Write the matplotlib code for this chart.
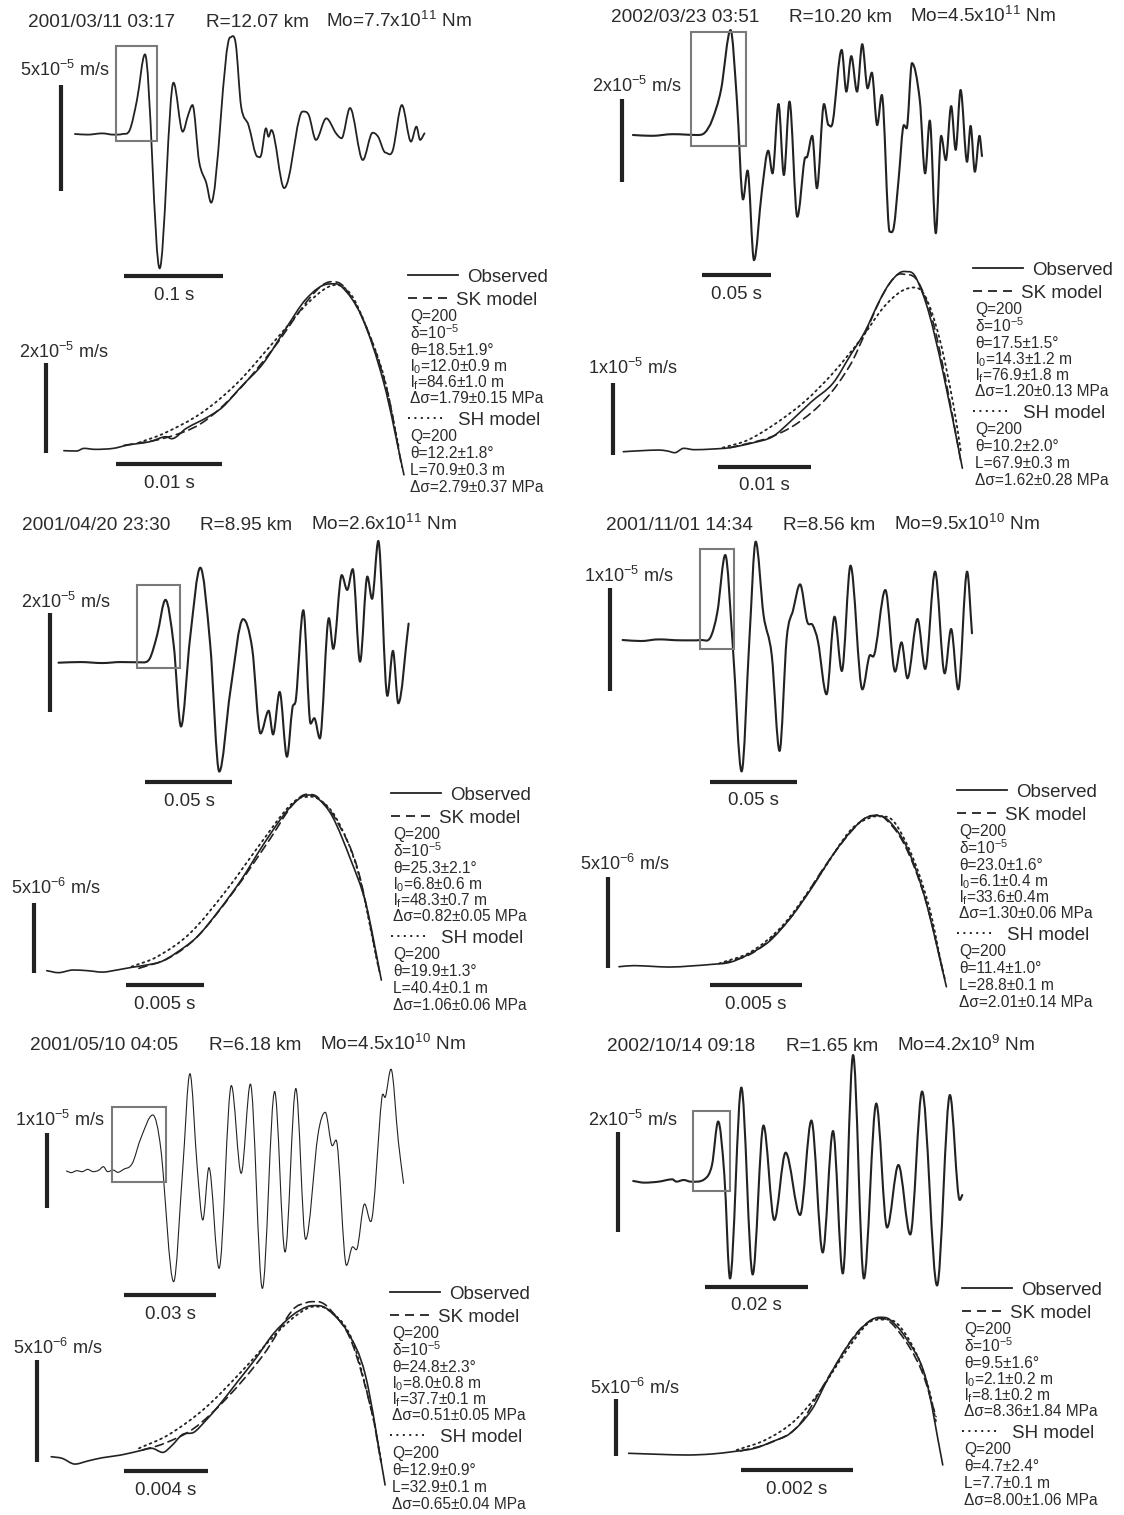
import numpy as np
import matplotlib
matplotlib.use('Agg')
import matplotlib.pyplot as plt
from matplotlib.path import Path
from matplotlib.patches import PathPatch, Rectangle

plt.rcParams['font.family'] = ['Liberation Sans', 'DejaVu Sans']
plt.rcParams['mathtext.fontset'] = 'custom'
plt.rcParams['mathtext.rm'] = 'Liberation Sans'
plt.rcParams['mathtext.it'] = 'Liberation Sans'
plt.rcParams['mathtext.bf'] = 'Liberation Sans:bold'
plt.rcParams['mathtext.default'] = 'regular'

W, H = 1124, 1515
INK = '#222222'
TXT = '#2b2b2b'
GRAY = '#7a7a7a'

# ---------------- data: time in ms, velocity in 1e-6 m/s ----------------
# event 1  2001/03/11
ev1_t = [0, 12.9, 27.7, 38.7, 48.0, 55.4, 62.7, 70.8, 85.6, 99.6, 108.9, 114.4, 118.8, 125.5, 132.8,
         137.6, 156.8, 162.4, 167.9, 175.3, 184.5, 188.2, 193.0, 195.6, 198.5, 211.4, 215.9, 229.9,
         236.2, 243.5, 253.9, 263.8, 269.4, 277.9, 290.8, 300.7, 306.3, 313.7, 321.0, 330.3, 339.5,
         345.0, 348.7, 353.1]
ev1_v = [0, -0.3, 0.3, -0.3, 0, 1.9, 16.1, 37.7, -63.6, 24.3, 1.1, 9.0, 13.7, -13.1, -23.3,
         -32.5, 45.7, 42.9, 13.0, 4.3, -10.7, -9.9, 2.7, -1.3, 1.9, -25.6, -20.8, 10.6,
         9.0, -2.8, 7.4, 0.3, -2.0, 12.3, -12.3, 0.6, -1.3, -8.8, -7.9, 13.7, -3.6,
         3.5, -2.8, 0.3]
ev1_obs_t = [0, 1.21, 1.90, 2.94, 4.67, 6.06, 8.13, 9.69, 10.21, 11.59, 13.67, 15.05, 16.78, 18.86,
             20.93, 23.0, 25.1, 26.3, 28.2, 30.3, 32.2]
ev1_obs_v = [0, -0.07, 0.52, 0.30, 0.52, 1.27, 2.01, 3.13, 2.68, 5.0, 7.6, 9.8, 14.3, 19.5,
             27.0, 34.1, 37.3, 36.7, 30.0, 15.1, -5.4]
ev1_sk_t = [5.7, 9.5, 13.0, 16.4, 19.9, 23.4, 25.3, 26.5, 28.5, 30.6, 32.0]
ev1_sk_v = [1.2, 2.8, 6.1, 13.2, 23.1, 34.5, 37.8, 36.7, 28.5, 13.6, -3.6]
ev1_sh_t = [7.1, 9.5, 13.0, 16.4, 19.9, 23.4, 25.8, 27.2, 28.5, 30.3, 31.7]
ev1_sh_v = [1.8, 3.9, 8.4, 15.1, 24.4, 33.7, 37.1, 34.9, 28.5, 16.6, 0.9]

# event 2  2002/03/23
ev2_t = [0, 13.7, 29.3, 47.4, 52.6, 57.8, 64.3, 71.3, 75.9, 80.4, 83.7, 88.4, 94.1, 98.8, 101.9,
         106.3, 110.2, 114.3, 120.0, 125.2, 127.3, 130.9, 134.3, 139.5, 142.8, 145.9, 152.4, 155.8,
         159.4, 163.6, 167.4, 171.3, 174.4, 178.3, 181.7, 187.4, 190.5, 193.9, 197.8, 199.8, 203.7,
         209.4, 213.3, 216.7, 221.1, 225.0, 228.4, 232.3, 235.6, 239.2, 243.9, 246.5, 249.6, 253.0, 254.8]
ev2_v = [0, -0.2, 0.2, 0, 0.6, 3.6, 10.9, 25.4, 8.5, -15.6, -8.6, -30.3, -13.7, -3.8, -9.3,
         7.5, -9.7, 8.1, -19.8, -6.1, -5.2, -0.2, -12.9, 7.5, 2.4, 3.2, 20.6, 10.5,
         19.1, 10.5, 22.0, 11.3, 15.1, 2.4, 9.7, -23.4, -22.2, -10.9, 2.4, 1.6, 17.4,
         8.5, -9.3, 3.5, -23.8, -0.2, -6.1, 7.0, -3.6, 10.9, -6.5, 2.2, -8.9, -0.2, -5.1]
ev2_obs_t = [0, 1.91, 3.82, 4.77, 5.54, 6.49, 7.64, 9.55, 11.45, 14.13, 16.04, 17.95, 20.24, 22.53,
             24.44, 25.96, 27.49, 28.64, 29.78, 30.73, 31.5, 32.83, 34.36, 36.46]
ev2_obs_v = [0, 0.14, 0.23, 0.09, -0.14, 0.47, 0.28, 0.37, 0.56, 1.30, 2.09, 4.19, 6.98, 9.53,
             13.5, 16.7, 20.9, 23.5, 25.0, 25.1, 24.2, 19.5, 11.2, -2.3]
ev2_sk_t = [11.45, 15.65, 18.7, 21.8, 24.4, 26.0, 27.9, 29.4, 30.5, 31.7, 33.2, 34.7, 36.3]
ev2_sk_v = [0.56, 1.95, 3.95, 7.4, 12.1, 16.5, 21.9, 24.6, 24.7, 23.7, 18.6, 9.8, -1.4]
ev2_sh_t = [10.7, 13.4, 16.4, 19.5, 22.5, 25.6, 27.9, 29.8, 31.3, 32.5, 34.0, 35.5, 36.3]
ev2_sh_v = [0.56, 1.63, 3.95, 7.0, 10.9, 15.8, 20.0, 22.3, 22.9, 21.6, 15.8, 6.5, 0]

# event 3  2001/04/20
ev3_t = [0, 12.6, 25.2, 35.7, 48.3, 52.5, 56.7, 61.5, 66.2, 70.4, 75.6, 81.5, 87.2, 92.4, 98.7,
         106.1, 111.3, 116.1, 120.8, 123.3, 127.1, 131.3, 134.4, 136.5, 140.7, 144.9, 147.0, 150.2,
         155.4, 157.9, 162.8, 165.9, 169.1, 173.3, 177.5, 180.2, 183.8, 189.0, 192.2, 195.3, 201.2]
ev3_v = [0, 0.13, -0.07, 0.13, 0.07, 0.88, 5.6, 12.7, 3.6, -12.9, 4.9, 19.2, 3.6, -22.0, -5.9,
         8.8, 2.9, -14.3, -9.7, -14.5, -5.9, -19.0, -9.2, -7.2, 10.6, -12.3, -11.2, -15.3,
         9.0, 2.8, 17.7, 14.7, 18.9, 0.2, 17.4, 12.9, 24.6, -6.7, 2.4, -8.2, 7.9]
ev3_obs_t = [0, 0.75, 1.69, 2.63, 3.57, 4.51, 5.45, 6.39, 7.33, 8.27, 9.67, 11.08, 12.49, 13.90,
             15.31, 16.25, 16.84, 17.42, 18.36, 19.54, 20.5, 21.5]
ev3_obs_v = [0, -0.14, 0.05, 0, -0.1, 0.05, 0.24, 0.40, 0.64, 1.24, 2.43, 4.33, 6.48, 8.98,
             11.24, 12.31, 12.55, 12.31, 11.0, 7.90, 4.81, -0.67]
ev3_sk_t = [5.92, 7.8, 9.67, 12.0, 14.37, 15.78, 16.7, 17.4, 18.6, 20.0, 21.4]
ev3_sk_v = [0.17, 0.88, 2.43, 5.64, 9.45, 11.83, 12.6, 12.4, 10.76, 7.19, -0.19]
ev3_sh_t = [5.45, 7.09, 9.2, 11.55, 13.9, 15.54, 16.5, 17.4, 18.6, 20.0, 21.3]
ev3_sh_v = [0.29, 1.0, 2.67, 5.76, 9.33, 11.7, 12.4, 12.3, 10.9, 7.07, 0.29]

# event 4  2001/11/01
ev4_t = [0, 10.6, 20.8, 33.1, 45.3, 50.4, 54.5, 59.0, 63.3, 68.4, 72.9, 76.5, 81.0, 85.7, 90.2,
         94.3, 98.0, 102.0, 106.1, 109.2, 112.3, 117.2, 121.8, 126.0, 131.0, 137.8, 142.3, 143.9,
         151.0, 156.6, 160.3, 163.7, 169.5, 173.9, 179.6, 185.1, 188.8, 192.9, 198.0, 200.8]
ev4_v = [0, -0.1, 0.06, -0.03, 0, 0.23, 2.76, 8.28, -0.49, -12.8, 0.16, 9.58, 2.44, -1.46, -10.8,
         0.16, 2.92, 5.42, 1.79, 1.46, -0.16, -5.29, 2.27, -3.02, 7.24, -4.81, -1.46, -1.62,
         4.87, -3.08, -0.23, -3.73, 2.05, -2.82, 6.66, -3.25, 1.07, -4.81, 6.66, 0.65]
ev4_obs_t = [0, 0.82, 1.79, 2.76, 3.93, 5.10, 6.07, 7.04, 8.21, 9.38, 10.55, 11.71, 12.69, 13.47,
             14.15, 14.83, 15.8, 16.77, 17.94]
ev4_obs_v = [0, 0.06, 0.02, -0.02, 0.04, 0.13, 0.24, 0.65, 1.38, 2.68, 4.34, 6.18, 7.47, 8.21,
             8.36, 8.03, 6.55, 3.78, -1.11]
ev4_sk_t = [5.68, 7.43, 9.38, 11.33, 12.88, 13.86, 14.44, 15.6, 16.77, 17.85]
ev4_sk_v = [0.18, 0.83, 2.68, 5.63, 7.66, 8.36, 8.32, 6.83, 3.78, -0.65]
ev4_sh_t = [5.49, 7.24, 8.99, 10.94, 12.69, 13.86, 14.63, 15.8, 16.97, 17.75]
ev4_sh_v = [0.18, 0.83, 2.31, 4.98, 7.56, 8.28, 8.30, 6.73, 3.41, -0.28]

# event 5  2001/05/10
ev5_t = [0, 1.55, 3.33, 5.12, 6.9, 8.69, 10.47, 12.0, 13.4, 15.2, 16.7, 18.8, 20.6, 21.8, 24.2,
         28.1, 30.7, 34.9, 37.8, 40.2, 42.6, 44.4, 46.4, 49.7, 53.7, 56.9, 59.9, 63.8, 67.8,
         71.2, 74.7, 77.9, 81.9, 84.3, 86.6, 87.8, 91.2, 93.2, 94.4, 97.1, 99.1, 102.7, 103.9,
         105.7, 108.1, 109.8]
ev5_v = [0, -0.22, 0.04, -0.09, 0.22, -0.09, 0.09, 0.58, -0.09, 0.13, -0.18, 0.27, 0.58, 1.35, 4.40,
         7.54, 3.05, -14.9, -0.09, 13.1, 0.36, -6.6, 0.45, -13.1, 11.5, -0.31, 11.7, -15.8, 10.7,
         -10.9, 11.1, -9.2, 4.85, 7.9, 3.4, 4.17, -12.7, -10.2, -10.6, -4.44, -6.82, 9.78, 10.0,
         13.7, 3.95, -1.66]
ev5_obs_t = [0, 0.52, 1.13, 1.74, 2.44, 3.31, 4.18, 4.79, 5.31, 5.74, 6.26, 6.79, 7.31, 8.0,
             8.87, 9.74, 10.6, 11.5, 12.2, 12.7, 13.2, 14.1, 14.96, 15.9]
ev5_obs_v = [0, -0.08, -0.36, -0.21, -0.05, 0.08, 0.28, 0.41, 0.21, 0.54, 1.09, 1.19, 1.71, 2.52,
             3.66, 4.8, 6.03, 6.92, 7.33, 7.38, 7.17, 6.11, 3.99, -1.38]
ev5_sk_t = [4.35, 5.39, 6.79, 8.35, 10.1, 11.5, 12.2, 12.7, 13.3, 14.3, 15.3, 15.7]
ev5_sk_v = [0.33, 0.65, 1.38, 2.85, 4.97, 7.17, 7.54, 7.57, 7.17, 5.62, 2.04, -0.24]
ev5_sh_t = [4.18, 5.57, 7.31, 9.05, 10.8, 11.8, 12.5, 13.2, 14.3, 15.3, 15.7]
ev5_sh_v = [0.41, 1.06, 2.36, 4.15, 6.11, 7.0, 7.33, 7.17, 5.78, 2.04, -0.16]

# event 6  2002/10/14
ev6_t = [0, 2.2, 4.96, 7.58, 8.4, 9.8, 11.2, 13.9, 15.3, 16.5, 17.7, 18.8, 21.0, 23.2, 25.3,
         27.4, 29.6, 32.4, 34.6, 36.8, 38.8, 40.7, 42.7, 44.8, 47.2, 49.3, 51.5, 53.8, 56.1,
         59.0, 61.5, 63.4, 63.9]
ev6_v = [0, -0.33, -0.13, 0.33, -0.13, 0.2, -0.13, 0.4, 3.2, 11.9, 1.2, -19.5, 18.7, -18.7, 11.1,
         -7.8, 5.67, -6.8, 12.1, -14.3, 10.0, -18.5, 25.2, -19.5, 15.5, -9.3, 3.2, -10.7, 17.9,
         -20.9, 17.2, -3.8, -2.8]
ev6_obs_t = [0, 0.54, 1.04, 1.48, 1.86, 2.24, 2.55, 2.87, 3.25, 3.56, 3.88, 4.19, 4.45, 4.64,
             4.95, 5.27, 5.58]
ev6_obs_v = [0, -0.09, -0.15, -0.06, 0.15, 0.44, 1.03, 1.76, 3.82, 6.76, 9.41, 11.3, 12.0, 11.8,
             10.0, 6.76, -1.03]
ev6_sk_t = [1.99, 2.49, 3.0, 3.5, 4.0, 4.32, 4.51, 4.82, 5.2, 5.46]
ev6_sk_v = [0.21, 0.88, 2.35, 6.32, 10.3, 11.8, 11.9, 10.6, 7.35, 3.24]
ev6_sh_t = [1.92, 2.43, 2.93, 3.37, 3.88, 4.26, 4.51, 4.76, 5.08, 5.33, 5.46]
ev6_sh_v = [0.29, 1.18, 2.79, 5.29, 9.12, 11.5, 11.8, 11.5, 9.12, 5.74, 2.79]

# text of each event
dates = ['2001/03/11 03:17', '2002/03/23 03:51', '2001/04/20 23:30',
         '2001/11/01 14:34', '2001/05/10 04:05', '2002/10/14 09:18']
dists = ['R=12.07 km', 'R=10.20 km', 'R=8.95 km', 'R=8.56 km', 'R=6.18 km', 'R=1.65 km']
moments = [('7.7', '11'), ('4.5', '11'), ('2.6', '11'), ('9.5', '10'), ('4.5', '10'), ('4.2', '9')]
# scale bars: (velocity in 1e-6 m/s, label mantissa, exponent), time in ms
wave_vbar = [(50, '5', '-5'), (20, '2', '-5'), (20, '2', '-5'), (10, '1', '-5'), (10, '1', '-5'), (20, '2', '-5')]
wave_tbar = [(100, '0.1 s'), (50, '0.05 s'), (50, '0.05 s'), (50, '0.05 s'), (30, '0.03 s'), (20, '0.02 s')]
pulse_vbar = [(20, '2', '-5'), (10, '1', '-5'), (5, '5', '-6'), (5, '5', '-6'), (5, '5', '-6'), (5, '5', '-6')]
pulse_tbar = [(10, '0.01 s'), (10, '0.01 s'), (5, '0.005 s'), (5, '0.005 s'), (4, '0.004 s'), (2, '0.002 s')]
# pulse window marked on each record (ms, 1e-6 m/s)
box_t = [(41.7, 83.0), (42.3, 82.2), (45.2, 69.7), (44.3, 64.3), (14.9, 32.5), (11.65, 18.7)]
box_v = [(-3.2, 41.6), (-2.7, 25.0), (-1.1, 15.6), (-0.91, 8.83), (-1.53, 8.66), (-1.93, 14.0)]

sk_params = [
    ['θ=18.5±1.9°', 'l$_0$=12.0±0.9 m', 'l$_f$=84.6±1.0 m', 'Δσ=1.79±0.15 MPa'],
    ['θ=17.5±1.5°', 'l$_0$=14.3±1.2 m', 'l$_f$=76.9±1.8 m', 'Δσ=1.20±0.13 MPa'],
    ['θ=25.3±2.1°', 'l$_0$=6.8±0.6 m', 'l$_f$=48.3±0.7 m', 'Δσ=0.82±0.05 MPa'],
    ['θ=23.0±1.6°', 'l$_0$=6.1±0.4 m', 'l$_f$=33.6±0.4m', 'Δσ=1.30±0.06 MPa'],
    ['θ=24.8±2.3°', 'l$_0$=8.0±0.8 m', 'l$_f$=37.7±0.1 m', 'Δσ=0.51±0.05 MPa'],
    ['θ=9.5±1.6°', 'l$_0$=2.1±0.2 m', 'l$_f$=8.1±0.2 m', 'Δσ=8.36±1.84 MPa'],
]
sh_params = [
    ['θ=12.2±1.8°', 'L=70.9±0.3 m', 'Δσ=2.79±0.37 MPa'],
    ['θ=10.2±2.0°', 'L=67.9±0.3 m', 'Δσ=1.62±0.28 MPa'],
    ['θ=19.9±1.3°', 'L=40.4±0.1 m', 'Δσ=1.06±0.06 MPa'],
    ['θ=11.4±1.0°', 'L=28.8±0.1 m', 'Δσ=2.01±0.14 MPa'],
    ['θ=12.9±0.9°', 'L=32.9±0.1 m', 'Δσ=0.65±0.04 MPa'],
    ['θ=4.7±2.4°', 'L=7.7±0.1 m', 'Δσ=8.00±1.06 MPa'],
]

waves = [(ev1_t, ev1_v), (ev2_t, ev2_v), (ev3_t, ev3_v), (ev4_t, ev4_v), (ev5_t, ev5_v), (ev6_t, ev6_v)]
pulses = [
    ((ev1_obs_t, ev1_obs_v), (ev1_sk_t, ev1_sk_v), (ev1_sh_t, ev1_sh_v)),
    ((ev2_obs_t, ev2_obs_v), (ev2_sk_t, ev2_sk_v), (ev2_sh_t, ev2_sh_v)),
    ((ev3_obs_t, ev3_obs_v), (ev3_sk_t, ev3_sk_v), (ev3_sh_t, ev3_sh_v)),
    ((ev4_obs_t, ev4_obs_v), (ev4_sk_t, ev4_sk_v), (ev4_sh_t, ev4_sh_v)),
    ((ev5_obs_t, ev5_obs_v), (ev5_sk_t, ev5_sk_v), (ev5_sh_t, ev5_sh_v)),
    ((ev6_obs_t, ev6_obs_v), (ev6_sk_t, ev6_sk_v), (ev6_sh_t, ev6_sh_v)),
]

# ---------------- layout (pixels) ----------------
# record: origin x, origin y, px per ms, px per 1e-6 m/s
wave_frame = [(74.9, 134, 0.99, 2.113), (632.9, 135, 1.37, 4.13), (58.5, 662.7, 1.74, 4.95),
              (622.6, 640, 1.74, 10.27), (66.5, 1171, 3.07, 7.43), (633.2, 1181, 5.15, 5.0)]
pulse_frame = [(63.9, 450.7, 10.56, 4.47), (623.3, 451.7, 9.30, 7.17), (46.8, 970.7, 15.56, 14.0),
               (619.0, 966.7, 18.25, 18.07), (51.2, 1456.7, 21.0, 20.47), (628.6, 1453.3, 56.3, 11.33)]
# scale bar anchors in data units: vertical (t, v bottom), horizontal (t start, v)
wave_vbar_at = [(-14.0, -26.8), (-7.8, -11.3), (-4.6, -10.0), (-7.1, -4.97), (-6.4, -4.93), (-2.96, -10.13)]
wave_tbar_at = [(50, -67.4), (50.5, -33.9), (50.0, -24.2), (50.0, -13.8), (18.8, -16.7), (13.9, -21.1)]
pulse_vbar_at = [(-1.66, -0.45), (-1.15, -0.47), (-0.85, -0.14), (-0.58, -0.06), (-0.70, -0.28), (-0.22, -0.24)]
pulse_tbar_at = [(4.95, -2.98), (10.2, -2.09), (5.1, -1.02), (5.0, -1.01), (3.45, -0.70), (1.99, -1.47)]
header_xy = [((28, 206, 326), 20), ((611, 789, 910), 15), ((22, 200, 311), 523),
             ((606, 783, 894), 523), ((30, 209, 320), 1043), ((607, 786, 897), 1044)]
wave_lab = [(20, 70), (592, 85), (21, 602), (584, 576), (15, 1119), (588, 1120)]
pulse_lab = [(19, 352), (588, 368), (11, 888), (580, 864), (13, 1347), (590, 1388)]
legend_xy = [(408, 275), (973, 268), (391, 793), (957, 790), (390, 1292), (962, 1288)]
sk_rows_dy = [40, 58.5, 74.5, 90.5, 106.5, 122.5]
sh_rows_dy = [160, 177, 194, 211]
wave_lw = [1.3, 1.5, 1.5, 1.5, 0.8, 1.5]

fig = plt.figure(figsize=(W / 100, H / 100), dpi=100)
base = fig.add_axes([0, 0, 1, 1])
base.set_xlim(0, W)
base.set_ylim(H, 0)
base.axis('off')


def put(x, yc, s, size, ha='left'):
    # yc is the visual centre of the capitals
    base.text(x, yc + 0.36 * size * 100 / 72, s, fontsize=size, ha=ha, va='baseline', color=TXT)


def frame_axes(x0, y0, pxs, pxv, name):
    ax = fig.add_axes([0, 0, 1, 1], facecolor='none', label=name)
    ax.set_xlim(-x0 / pxs, (W - x0) / pxs)
    ax.set_ylim(-(H - y0) / pxv, y0 / pxv)
    ax.axis('off')
    return ax


def smooth(ax, t, v, **kw):
    # piecewise cubic through the read points, flat at the turning points
    t = np.asarray(t, float)
    v = np.asarray(v, float)
    n = len(t)
    m = np.zeros(n)
    for i in range(1, n - 1):
        if (v[i] - v[i - 1]) * (v[i + 1] - v[i]) > 0:
            m[i] = (v[i + 1] - v[i - 1]) / (t[i + 1] - t[i - 1])
    m[0] = (v[1] - v[0]) / (t[1] - t[0])
    m[-1] = (v[-1] - v[-2]) / (t[-1] - t[-2])
    verts = [(t[0], v[0])]
    codes = [Path.MOVETO]
    for i in range(n - 1):
        d = (t[i + 1] - t[i]) / 3
        verts += [(t[i] + d, v[i] + m[i] * d), (t[i + 1] - d, v[i + 1] - m[i + 1] * d), (t[i + 1], v[i + 1])]
        codes += [Path.CURVE4] * 3
    ax.add_patch(PathPatch(Path(verts, codes), fill=False, capstyle='round', joinstyle='round', **kw))


def bars(ax, vbar, vat, tbar, tat):
    ax.plot([vat[0], vat[0]], [vat[1], vat[1] + vbar[0]], color=INK, lw=3, solid_capstyle='butt')
    ax.plot([tat[0], tat[0] + tbar[0]], [tat[1], tat[1]], color=INK, lw=3, solid_capstyle='butt')
    ax.annotate(tbar[1], xy=(tat[0] + tbar[0] / 2, tat[1]), xytext=(0, -(17 + 6.7) * 0.72),
                textcoords='offset points', ha='center', va='baseline', fontsize=13.4, color=TXT)


for k in range(6):
    # header
    xs, yh = header_xy[k]
    put(xs[0], yh, dates[k], 13.7)
    put(xs[1], yh, dists[k], 13.7)
    put(xs[2], yh, 'Mo=%sx10$^{%s}$ Nm' % moments[k], 13.7)

    # full record
    ax = frame_axes(*wave_frame[k], name='wave%d' % k)
    smooth(ax, waves[k][0], waves[k][1], color=INK, lw=wave_lw[k])
    ax.add_patch(Rectangle((box_t[k][0], box_v[k][0]), box_t[k][1] - box_t[k][0],
                           box_v[k][1] - box_v[k][0], fill=False, ec=GRAY, lw=1.5))
    bars(ax, wave_vbar[k], wave_vbar_at[k], wave_tbar[k], wave_tbar_at[k])
    put(wave_lab[k][0], wave_lab[k][1], '%sx10$^{%s}$ m/s' % wave_vbar[k][1:], 13)

    # first pulse with the two model fits
    ax2 = frame_axes(*pulse_frame[k], name='pulse%d' % k)
    obs, sk, sh = pulses[k]
    smooth(ax2, sh[0], sh[1], color=INK, lw=1.3, linestyle=(0, (1, 2.2)))
    smooth(ax2, sk[0], sk[1], color=INK, lw=1.2, linestyle=(0, (5, 3)))
    smooth(ax2, obs[0], obs[1], color=INK, lw=1.2)
    bars(ax2, pulse_vbar[k], pulse_vbar_at[k], pulse_tbar[k], pulse_tbar_at[k])
    put(pulse_lab[k][0], pulse_lab[k][1], '%sx10$^{%s}$ m/s' % pulse_vbar[k][1:], 13)

    # legend and parameters
    lx, ly = legend_xy[k]
    px = lx + 2
    base.plot([lx, lx + 50], [ly, ly], color=INK, lw=1.3)
    put(lx + 59, ly, 'Observed', 13.5)
    base.plot([lx, lx + 39], [ly + 23] * 2, color=INK, lw=1.3, linestyle=(0, (5, 3.3)))
    put(lx + 48, ly + 23, 'SK model', 13.5)
    rows = ['Q=200', 'δ=10$^{-5}$'] + sk_params[k]
    for dy, s in zip(sk_rows_dy, rows):
        put(px, ly + dy, s, 11.2)
    base.plot([lx, lx + 38], [ly + 143] * 2, color=INK, lw=1.4, linestyle=(0, (1, 2.3)))
    put(lx + 50, ly + 143, 'SH model', 13.5)
    rows = ['Q=200'] + sh_params[k]
    for dy, s in zip(sh_rows_dy, rows):
        put(px, ly + dy, s, 11.2)

fig.savefig('out.png', dpi=100)
